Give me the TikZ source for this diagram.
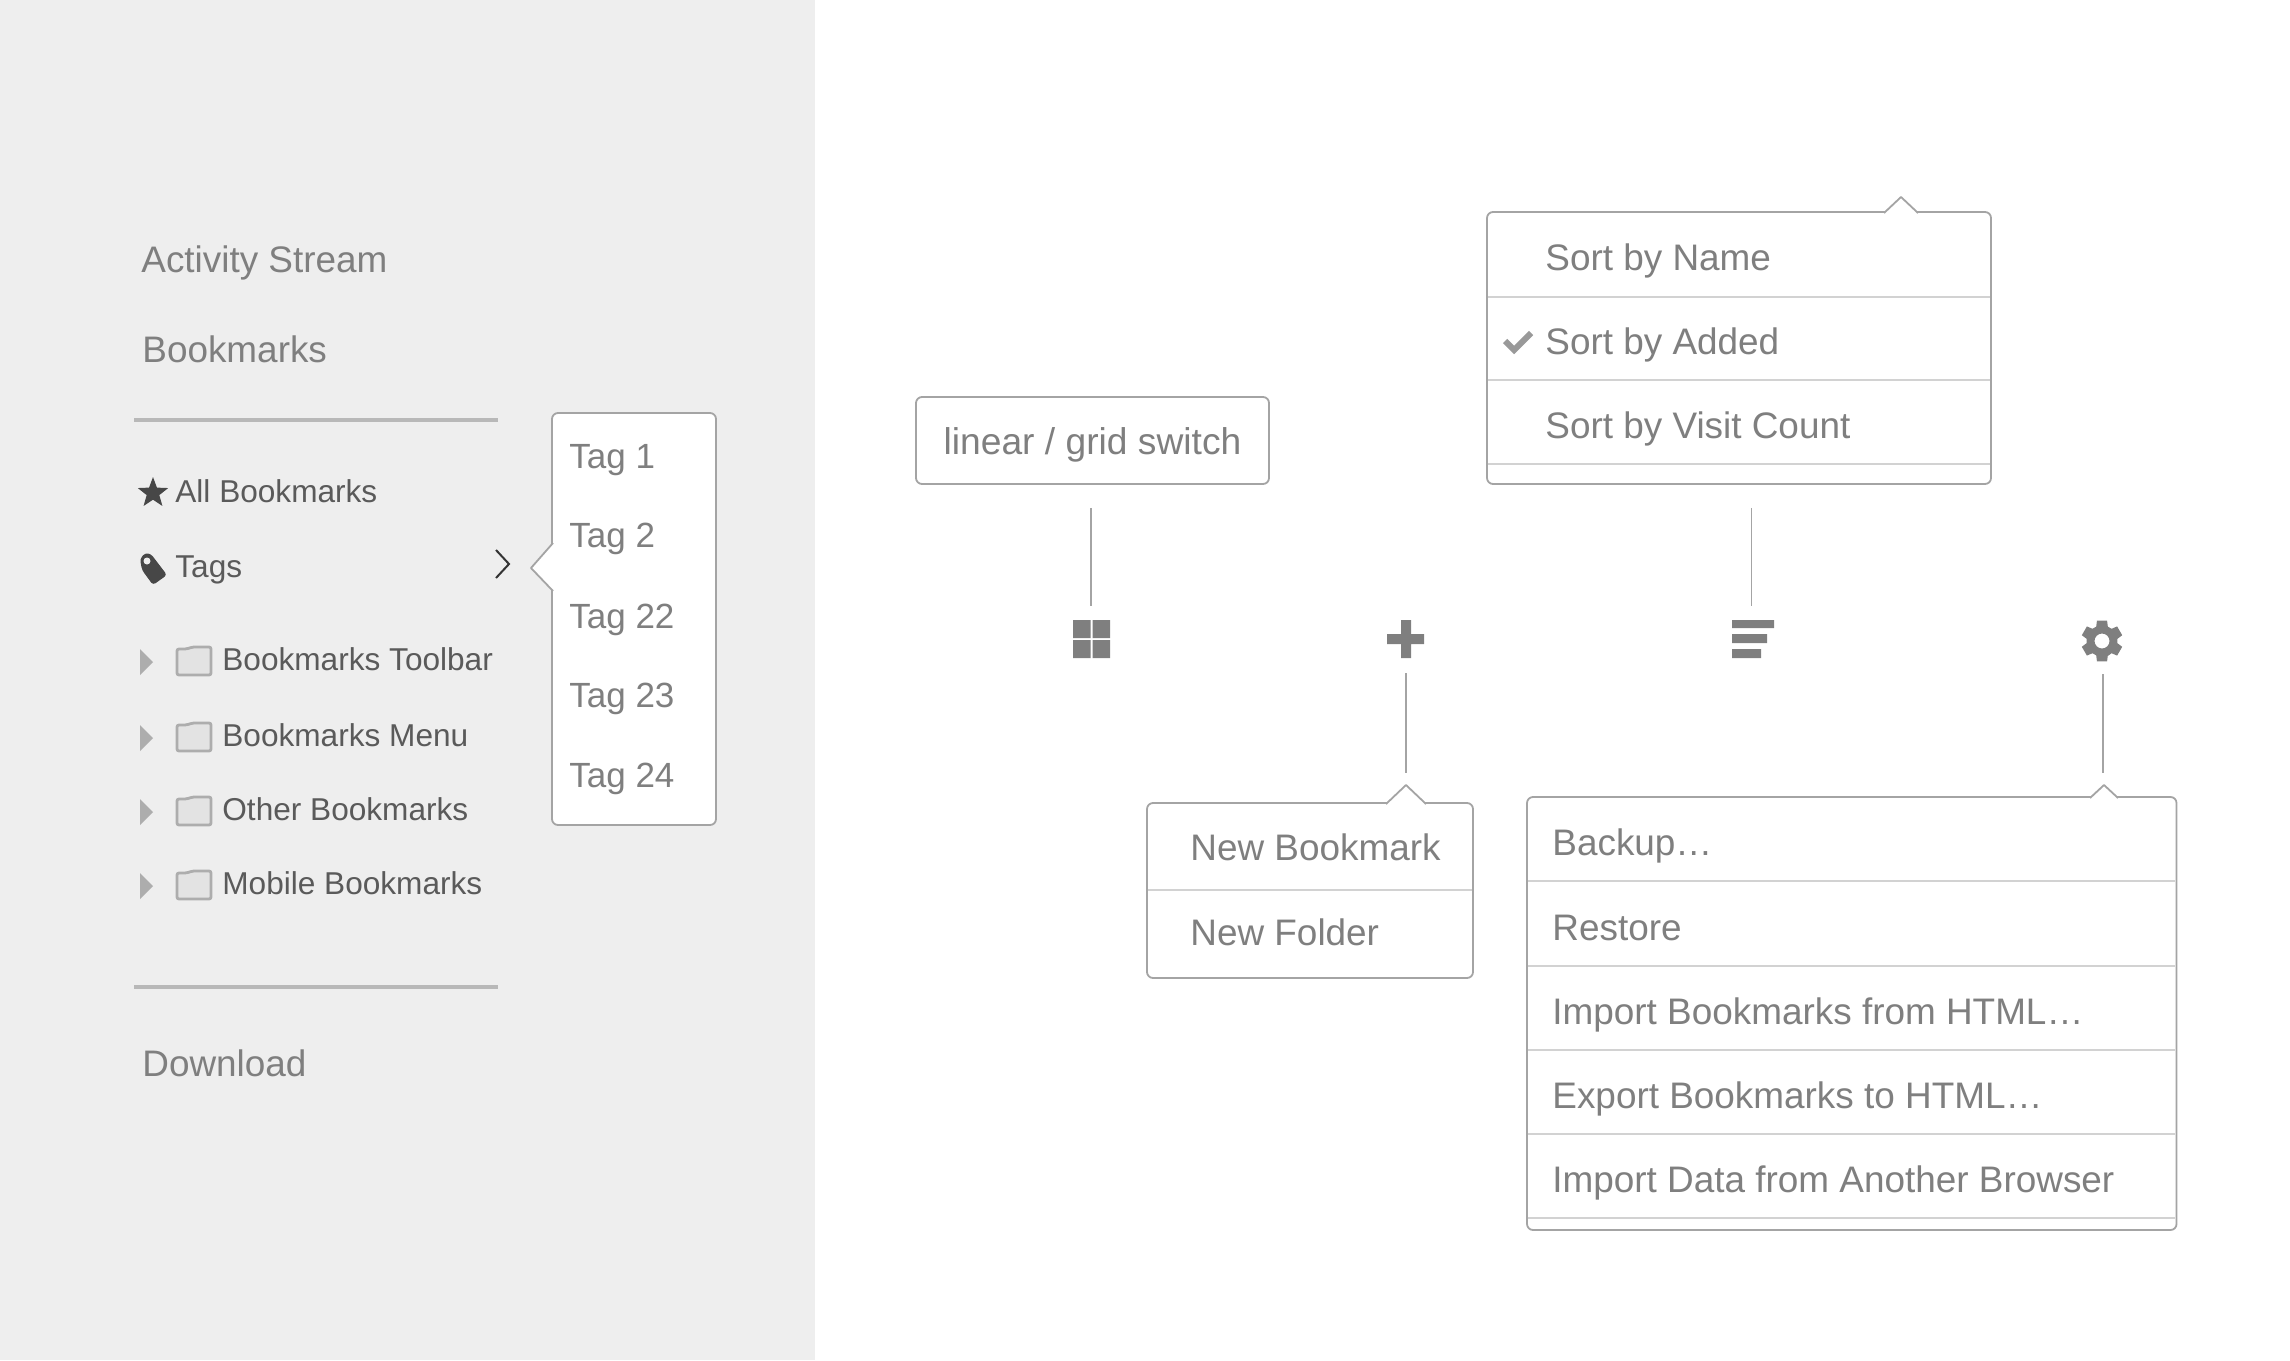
\documentclass[tikz,border=0pt]{standalone}
\usepackage{fontspec}
\setmainfont{Liberation Sans}
\usepackage{tikz}
\usetikzlibrary{math}
\usetikzlibrary{positioning}
\usetikzlibrary{shapes.geometric}
\definecolor{sidebg}{HTML}{EEEEEE}
\definecolor{rulegray}{HTML}{B8B8B8}
\definecolor{bordergray}{HTML}{A4A4A4}
\definecolor{dividergray}{HTML}{D2D2D2}
\definecolor{textgray}{HTML}{7F7F7F}
\definecolor{treegray}{HTML}{5A5A5A}
\definecolor{icongray}{HTML}{7F7F7F}
\definecolor{darkicon}{HTML}{474747}
\tikzstyle{menubox} = [rectangle, draw=bordergray, line width=0.9pt, rounded corners=3pt, fill=white, inner sep=0pt]
\tikzstyle{pointer} = [draw=bordergray, line width=0.9pt, fill=white, line join=round]
\tikzstyle{divider} = [draw=dividergray, line width=0.55pt, shorten <=1pt, shorten >=1pt]
\tikzstyle{link} = [draw=bordergray, line width=0.9pt]
\tikzstyle{rulebar} = [draw=rulegray, line width=1.8pt]
\tikzstyle{menuitem} = [anchor=base west, inner sep=0pt, text=textgray, font=\fontsize{18.45pt}{22pt}\selectfont]
\tikzstyle{tagitem} = [anchor=base west, inner sep=0pt, text=textgray, font=\fontsize{17.5pt}{21pt}\selectfont]
\tikzstyle{navitem} = [anchor=base west, inner sep=0pt, text=textgray, font=\fontsize{18.45pt}{22pt}\selectfont]
\tikzstyle{treeitem} = [anchor=base west, inner sep=0pt, text=treegray, font=\fontsize{15.8pt}{19pt}\selectfont]
\tikzstyle{iconspot} = [rectangle, minimum size=19pt, inner sep=0pt]

\begin{document}
\begin{tikzpicture}[x=0.5pt, y=-0.5pt]

  \tikzmath{\xmax = 2290; \ymax = 1360; \sidew = 815;}
  \useasboundingbox (0,0) rectangle (\xmax,\ymax);

  % sidebar
  \fill[sidebg] (0,0) rectangle (\sidew,\ymax);
  \node[navitem] (activity) at (141,272) {Activity Stream};
  \node[navitem] (bookmarks) at (142,362) {Bookmarks};
  \node[navitem] (download) at (142,1076) {Download};
  \draw[rulebar] (134,420) -- (498,420);
  \draw[rulebar] (134,987) -- (498,987);

  % all bookmarks, tags
  \node[star, star points=5, star point ratio=2.4, fill=darkicon, minimum size=16pt, inner sep=0pt] (staricon) at (153,493) {};
  \node[treeitem] (allbm) at (175,502) {All Bookmarks};
  \fill[darkicon, rounded corners=1.5pt] (140,559) -- (145,553) -- (151,554) -- (167,575) -- (153,585) -- (142,570) -- cycle;
  \fill[sidebg] (147,561) circle (3.5);
  \node[treeitem] (tags) at (175,577.5) {Tags};
  \draw[black!80, line width=1pt] (496,550) -- (509,564) -- (496,578);

  % folders
  \foreach \y/\t [count=\i] in {662/Bookmarks Toolbar, 738/Bookmarks Menu, 812/Other Bookmarks, 886/Mobile Bookmarks}{
    \fill[black!32] (140,\y-13) -- (153,\y) -- (140,\y+13) -- cycle;
    \filldraw[draw=black!32, fill=black!11, line width=1.4pt, rounded corners=1pt] (177,\y+13) -- (177,\y-13) -- (187,\y-13) -- (192,\y-15) -- (211,\y-15) -- (211,\y+13) -- cycle;
    \node[treeitem] (folder\i) at (222,\y+8.5) {\t};
  }

  % tag popup
  \node[menubox, minimum width=82pt, minimum height=206pt] (tagmenu) at (634,619) {};
  \filldraw[pointer] (553,543) -- (531,568) -- (553,591);
  \foreach \y/\t [count=\i] in {468/Tag 1, 547/Tag 2, 628/Tag 22, 707/Tag 23, 787/Tag 24}{
    \node[tagitem] (tag\i) at (569,\y) {\t};
  }

  % icons
  \node[iconspot] (gridicon) at (1091,639) {};
  \node[iconspot] (plusicon) at (1406,639) {};
  \node[iconspot] (sorticon) at (1751.5,639) {};
  \node[iconspot] (gearicon) at (2103,641) {};

  \fill[icongray] (1073,620) rectangle (1090.5,638) (1092.5,620) rectangle (1110,638) (1073,640) rectangle (1090.5,658) (1092.5,640) rectangle (1110,658);
  \fill[icongray] (1401,620) rectangle (1411,658) (1387,634) rectangle (1424,644);
  \fill[icongray] (1732,620) rectangle (1774,628) (1732,634) rectangle (1767,643) (1732,649) rectangle (1761,658);
  \begin{scope}[shift={([xshift=-0.5pt]gearicon.center)}]
    \fill[icongray, even odd rule, line join=round] (68:16) \foreach \a in {90,150,...,390}{ -- (\a-22:15.5) -- (\a-14:21) -- (\a+14:21) -- (\a+22:15.5) } -- cycle (0,0) circle (7.5);
  \end{scope}

  % linear / grid switch
  \node[menubox, minimum width=176.5pt, minimum height=43.5pt, text=textgray, text height=14pt, text depth=0pt, font=\fontsize{18.6pt}{22pt}\selectfont] (switch) at (1092.5,440.5) {linear / grid switch};
  \draw[link, shorten <=11.5pt, shorten >=7pt] (switch.south -| gridicon.north) -- (gridicon.north);

  % sort menu
  \node[menubox, minimum width=252pt, minimum height=136pt] (sortmenu) at (1739,348) {};
  \filldraw[pointer] (1884,213) -- (1901,197) -- (1918,213);
  \foreach \y in {297,380,464}{
    \draw[divider] (sortmenu.west |- 0,\y) -- (sortmenu.east |- 0,\y);
  }
  \foreach \y/\t [count=\i] in {270/Sort by Name, 354/Sort by Added, 438/Sort by Visit Count}{
    \node[menuitem] (sort\i) at (1545,\y) {\t};
  }
  \draw[black!40, line width=3pt] (1505,341) -- (1514,350) -- (1531,333);
  \draw[link, shorten <=11.5pt, shorten >=7pt] (sortmenu.south -| sorticon.north) -- (sorticon.north);

  % new menu
  \node[menubox, minimum width=163pt, minimum height=87.5pt] (newmenu) at (1310,890.5) {};
  \coordinate (newtip) at (1406,785);
  \filldraw[pointer] (1386,804) -- (newtip) -- (1426,804);
  \draw[divider] (newmenu.west |- 0,890) -- (newmenu.east |- 0,890);
  \node[menuitem] (newbm) at (1190,860) {New Bookmark};
  \node[menuitem] (newfolder) at (1190,945) {New Folder};
  \draw[link, shorten <=7.5pt, shorten >=6pt] (plusicon.south) -- (plusicon.south |- newtip);

  % settings menu
  \node[menubox, minimum width=324.75pt, minimum height=216.5pt] (prefmenu) at (1851.75,1013.5) {};
  \coordinate (preftip) at (2104,785);
  \filldraw[pointer] (2090,798) -- (preftip) -- (2118,798);
  \foreach \y in {881,966,1050,1134,1218}{
    \draw[divider] (prefmenu.west |- 0,\y) -- (prefmenu.east |- 0,\y);
  }
  \foreach \y/\t [count=\i] in {855/Backup…, 940/Restore, 1024/Import Bookmarks from HTML…, 1108/Export Bookmarks to HTML…, 1192/Import Data from Another Browser}{
    \node[menuitem] (pref\i) at (1552,\y) {\t};
  }
  \draw[link, shorten <=7pt, shorten >=6pt] (gearicon.south) -- (gearicon.south |- preftip);

\end{tikzpicture}
\end{document}
